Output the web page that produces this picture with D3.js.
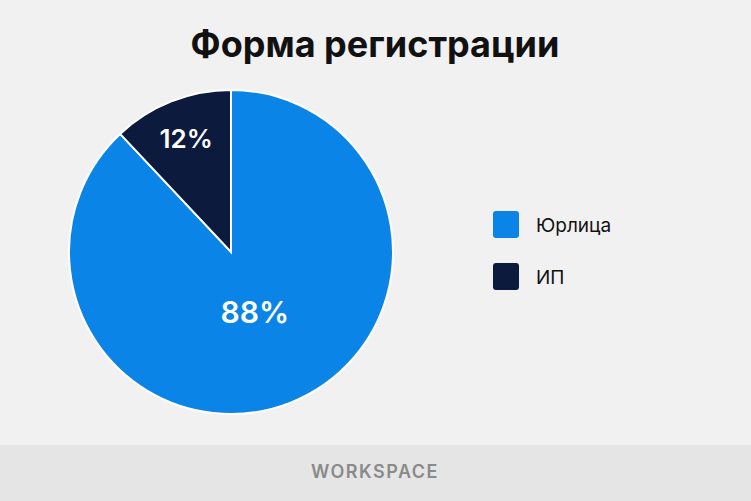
<!DOCTYPE html><html><head><meta charset="utf-8"><script src="https://cdn.jsdelivr.net/npm/d3@7"></script>
<style>body{margin:0;background:#f1f1f1}svg{display:block}</style></head><body><svg width="751" height="501"></svg>
<script>
const categories=["Юрлица","ИП"];
const values=[88,12];
const colors=["#0a84e6","#0b1a3d"];
const svg=d3.select("svg");
svg.append("rect").attr("width",751).attr("height",501).attr("fill","#f1f1f1");
svg.append("rect").attr("y",445).attr("width",751).attr("height",56).attr("fill","#e5e5e5");
svg.append("text").attr("x",375).attr("y",478).attr("text-anchor","middle").attr("font-family","Inter, sans-serif").attr("font-size",18).attr("font-weight",600).attr("letter-spacing",1.5).attr("fill","#8a8a8a").text("WORKSPACE");
svg.append("text").attr("x",375).attr("y",57).attr("text-anchor","middle").attr("font-family","Inter, sans-serif").attr("font-size",36).attr("font-weight",700).attr("fill","#111").text("Форма регистрации");
const g=svg.append("g").attr("transform","translate(231,252)");
const r=162;
const pie=d3.pie().sort(null).startAngle(-2*Math.PI*0).value(d=>d)
// ИП from -12% to 0 so order reversed: start at 0 with Юрлица
const arcs=pie(values);
const arc=d3.arc().innerRadius(0).outerRadius(r);
g.selectAll("path").data(arcs).join("path").attr("d",arc).attr("fill",(d,i)=>colors[i]).attr("stroke","#fff").attr("stroke-width",2);
const lab=[[40,75],[-40,-100]];
const la=d3.arc().innerRadius(0).outerRadius(r);
g.selectAll("text.l").data(arcs).join("text").attr("class","l")
 .attr("transform",(d,i)=>{const c=d3.arc().innerRadius(i==0?0:r*0.5).outerRadius(i==0?r*0.8:r*1.0).centroid(d);return `translate(${c})`;})
 .attr("text-anchor","middle").attr("dy","0.35em").attr("font-family","Inter, sans-serif").attr("font-weight",600)
 .attr("font-size",(d,i)=>i==0?30:26).attr("fill","#fff").text((d,i)=>values[i]+"%");
const lg=svg.append("g").attr("font-family","Inter, sans-serif");
categories.forEach((c,i)=>{
 lg.append("rect").attr("x",493).attr("y",211+i*52).attr("width",26).attr("height",27).attr("rx",3).attr("fill",colors[i]);
 lg.append("text").attr("x",536).attr("y",225+i*52).attr("dy","0.35em").attr("font-size",19).attr("fill","#111").text(c);
});
</script></body></html>
